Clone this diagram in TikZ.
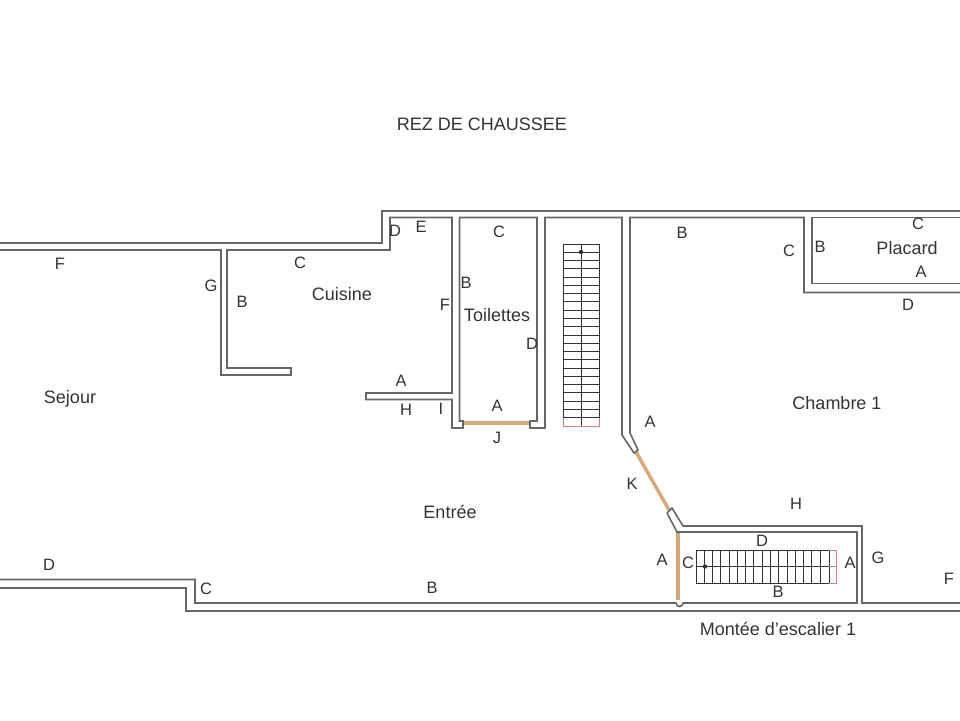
\documentclass[tikz,border=0pt]{standalone}
\usepackage{fontspec}
\setmainfont{Liberation Sans}
\definecolor{wall}{HTML}{666666}
\definecolor{ink}{HTML}{333333}
\definecolor{doorc}{HTML}{D8A878}
\definecolor{stairend}{HTML}{D88080}
\tikzset{
  wallline/.style={draw=wall,line width=1.6pt,line join=miter},
  doorline/.style={draw=doorc,line width=3.5pt},
  stairline/.style={draw=ink,line width=0.9pt},
  stairred/.style={draw=stairend,line width=1pt},
  lbl/.style={text=ink,font=\fontsize{16.5}{18}\selectfont,inner sep=0pt},
  room/.style={text=ink,font=\fontsize{18}{20}\selectfont,inner sep=0pt}
}
\begin{document}
\begin{tikzpicture}[x=1pt,y=-1pt]
\useasboundingbox (0,0) rectangle (960,720);
% doors
\draw[doorline] (464,423) -- (529,423);
\draw[doorline] (636,452) -- (669,510);
\draw[doorline] (678,533) -- (678,600);
% outer upper wall
\draw[wallline] (0,243) -- (382,243) -- (382,211) -- (960,211);
\draw[wallline] (0,250) -- (221,250) -- (221,375) -- (291,375) -- (291,368) -- (227,368) -- (227,250) -- (390,250) -- (390,217.5) -- (452,217.5) -- (452,393) -- (366,393) -- (366,399.5) -- (452,399.5) -- (452,428) -- (463,428) -- (463,421) -- (459.5,421) -- (459.5,217.5) -- (537,217.5) -- (537,421) -- (530,421) -- (530,428) -- (545,428) -- (545,217.5) -- (622,217.5) -- (622,435) -- (634,453) -- (638,450) -- (630,433) -- (630,217.5) -- (804,217.5) -- (804,292.5) -- (960,292.5);
% placard
\draw[wallline] (960,217.5) -- (812,217.5) -- (812,283.5) -- (960,283.5);
% stair room and lower walls
\draw[wallline] (667,513) -- (672,508) -- (683,526) -- (862,526) -- (862,603) -- (960,603);
\draw[wallline] (667,513) -- (677,532) -- (677,533);
\draw[wallline] (677,532) -- (857,532) -- (857,603) -- (683,603) arc[start angle=0,end angle=180,radius=3.5] -- (195,603) -- (195,579.5) -- (0,579.5);
\draw[wallline] (0,588) -- (186,588) -- (186,611) -- (960,611);
% stairs 1
\draw[stairline] (563.5,418) -- (563.5,244) -- (599.5,244) -- (599.5,418);
\draw[stairline] (581,244) -- (581,426);
\foreach \i in {1,...,21} \draw[stairline] (563.5,244+\i*8.27) -- (599.5,244+\i*8.27);
\draw[stairred] (563.5,418) -- (563.5,426) -- (599.5,426) -- (599.5,418);
\fill[ink] (581,252) circle[radius=2.2];
% stairs 2
\draw[stairline] (696,550) -- (696,583) -- (829,583) -- (829,550) -- cycle;
\draw[stairline] (696,566.5) -- (829,566.5);
\foreach \i in {1,...,15} \draw[stairline] (696+\i*8.27,550) -- (696+\i*8.27,583);
\draw[stairred] (829,550) -- (836.5,550) -- (836.5,583) -- (829,583);
\draw[stairred] (829,566.5) -- (836.5,566.5);
\fill[ink] (705,566.5) circle[radius=2.2];
% rooms
\node[room] (title) at (482,124) {REZ DE CHAUSSEE};
\node[room] (sejour) at (70,399) {Sejour};
\node[room] (cuisine) at (342,294) {Cuisine};
\node[room] (toilettes) at (497,315) {Toilettes};
\node[room] (chambre) at (837,403) {Chambre 1};
\node[room] (placard) at (907,248) {Placard};
\node[room] (entree) at (450,512) {Entrée};
\node[room] (montee) at (778,629) {Montée d'escalier 1};
% labels
\node[lbl] (l1) at (60,264) {F};
\node[lbl] (l2) at (211,286) {G};
\node[lbl] (l3) at (242,302) {B};
\node[lbl] (l4) at (300,263) {C};
\node[lbl] (l5) at (395,231) {D};
\node[lbl] (l6) at (421,227) {E};
\node[lbl] (l7) at (445,305) {F};
\node[lbl] (l8) at (466,283) {B};
\node[lbl] (l9) at (499,232) {C};
\node[lbl] (l10) at (532,344) {D};
\node[lbl] (l11) at (497,406) {A};
\node[lbl] (l12) at (497,438) {J};
\node[lbl] (l13) at (401,381) {A};
\node[lbl] (l14) at (406,410) {H};
\node[lbl] (l15) at (441,409) {I};
\node[lbl] (l16) at (682,233) {B};
\node[lbl] (l17) at (789,251) {C};
\node[lbl] (l18) at (820,247) {B};
\node[lbl] (l19) at (918,224) {C};
\node[lbl] (l20) at (921,272) {A};
\node[lbl] (l21) at (908,305) {D};
\node[lbl] (l22) at (650,422) {A};
\node[lbl] (l23) at (632,484) {K};
\node[lbl] (l24) at (796,504) {H};
\node[lbl] (l25) at (662,560) {A};
\node[lbl] (l26) at (688,563) {C};
\node[lbl] (l27) at (762,541) {D};
\node[lbl] (l28) at (850,563) {A};
\node[lbl] (l29) at (878,558) {G};
\node[lbl] (l30) at (778,592) {B};
\node[lbl] (l31) at (949,579) {F};
\node[lbl] (l32) at (49,565) {D};
\node[lbl] (l33) at (206,589) {C};
\node[lbl] (l34) at (432,588) {B};
\end{tikzpicture}
\end{document}
